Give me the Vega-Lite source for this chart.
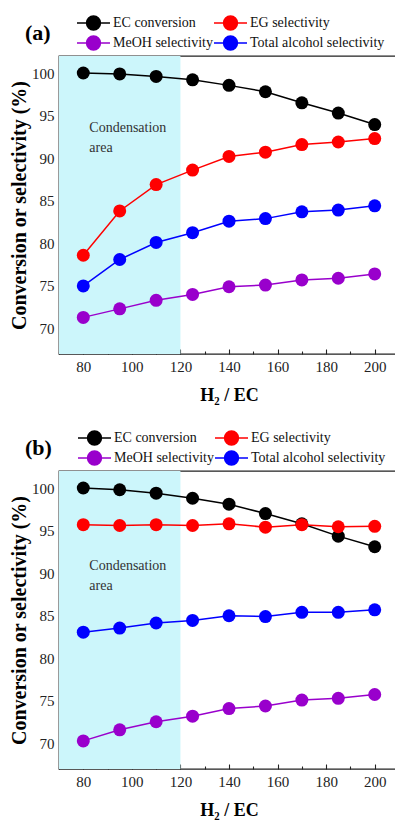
{
  "$schema": "https://vega.github.io/schema/vega-lite/v6.json",
  "padding": {"left": 8, "top": 13, "right": 0, "bottom": 5},
  "spacing": 23,
  "config": {
    "font": "Liberation Serif",
    "view": {"stroke": "#222", "strokeWidth": 1.3},
    "axis": {
      "grid": false,
      "domain": false,
      "tickColor": "#222",
      "tickWidth": 1.1,
      "labelOverlap": false,
      "labelFlush": false,
      "labelFont": "Liberation Serif",
      "labelFontSize": 15,
      "labelColor": "#222",
      "titleFont": "Liberation Serif",
      "titleFontWeight": "bold",
      "titleColor": "#000"
    },
    "legend": {
      "labelFont": "Liberation Serif",
      "labelFontSize": 14,
      "labelColor": "#111",
      "titleFont": "Liberation Serif"
    }
  },
  "resolve": {"legend": {"color": "independent"}},
  "datasets": {
    "pts": [
      {"panel": "a", "series": "EC conversion", "h2ec": 80, "value": 100.0},
      {"panel": "a", "series": "EC conversion", "h2ec": 95, "value": 99.9},
      {"panel": "a", "series": "EC conversion", "h2ec": 110, "value": 99.6},
      {"panel": "a", "series": "EC conversion", "h2ec": 125, "value": 99.2},
      {"panel": "a", "series": "EC conversion", "h2ec": 140, "value": 98.55},
      {"panel": "a", "series": "EC conversion", "h2ec": 155, "value": 97.8},
      {"panel": "a", "series": "EC conversion", "h2ec": 170, "value": 96.5},
      {"panel": "a", "series": "EC conversion", "h2ec": 185, "value": 95.3},
      {"panel": "a", "series": "EC conversion", "h2ec": 200, "value": 93.95},
      {"panel": "a", "series": "EG selectivity", "h2ec": 80, "value": 78.6},
      {"panel": "a", "series": "EG selectivity", "h2ec": 95, "value": 83.8},
      {"panel": "a", "series": "EG selectivity", "h2ec": 110, "value": 86.9},
      {"panel": "a", "series": "EG selectivity", "h2ec": 125, "value": 88.6},
      {"panel": "a", "series": "EG selectivity", "h2ec": 140, "value": 90.2},
      {"panel": "a", "series": "EG selectivity", "h2ec": 155, "value": 90.7},
      {"panel": "a", "series": "EG selectivity", "h2ec": 170, "value": 91.6},
      {"panel": "a", "series": "EG selectivity", "h2ec": 185, "value": 91.9},
      {"panel": "a", "series": "EG selectivity", "h2ec": 200, "value": 92.3},
      {"panel": "a", "series": "MeOH selectivity", "h2ec": 80, "value": 71.3},
      {"panel": "a", "series": "MeOH selectivity", "h2ec": 95, "value": 72.3},
      {"panel": "a", "series": "MeOH selectivity", "h2ec": 110, "value": 73.3},
      {"panel": "a", "series": "MeOH selectivity", "h2ec": 125, "value": 74.0},
      {"panel": "a", "series": "MeOH selectivity", "h2ec": 140, "value": 74.9},
      {"panel": "a", "series": "MeOH selectivity", "h2ec": 155, "value": 75.1},
      {"panel": "a", "series": "MeOH selectivity", "h2ec": 170, "value": 75.7},
      {"panel": "a", "series": "MeOH selectivity", "h2ec": 185, "value": 75.9},
      {"panel": "a", "series": "MeOH selectivity", "h2ec": 200, "value": 76.4},
      {"panel": "a", "series": "Total alcohol selectivity", "h2ec": 80, "value": 75.0},
      {"panel": "a", "series": "Total alcohol selectivity", "h2ec": 95, "value": 78.1},
      {"panel": "a", "series": "Total alcohol selectivity", "h2ec": 110, "value": 80.1},
      {"panel": "a", "series": "Total alcohol selectivity", "h2ec": 125, "value": 81.25},
      {"panel": "a", "series": "Total alcohol selectivity", "h2ec": 140, "value": 82.6},
      {"panel": "a", "series": "Total alcohol selectivity", "h2ec": 155, "value": 82.9},
      {"panel": "a", "series": "Total alcohol selectivity", "h2ec": 170, "value": 83.7},
      {"panel": "a", "series": "Total alcohol selectivity", "h2ec": 185, "value": 83.9},
      {"panel": "a", "series": "Total alcohol selectivity", "h2ec": 200, "value": 84.4},
      {"panel": "b", "series": "EC conversion", "h2ec": 80, "value": 100.0},
      {"panel": "b", "series": "EC conversion", "h2ec": 95, "value": 99.8},
      {"panel": "b", "series": "EC conversion", "h2ec": 110, "value": 99.4},
      {"panel": "b", "series": "EC conversion", "h2ec": 125, "value": 98.8},
      {"panel": "b", "series": "EC conversion", "h2ec": 140, "value": 98.1},
      {"panel": "b", "series": "EC conversion", "h2ec": 155, "value": 97.0},
      {"panel": "b", "series": "EC conversion", "h2ec": 170, "value": 95.8},
      {"panel": "b", "series": "EC conversion", "h2ec": 185, "value": 94.35},
      {"panel": "b", "series": "EC conversion", "h2ec": 200, "value": 93.1},
      {"panel": "b", "series": "EG selectivity", "h2ec": 80, "value": 95.7},
      {"panel": "b", "series": "EG selectivity", "h2ec": 95, "value": 95.6},
      {"panel": "b", "series": "EG selectivity", "h2ec": 110, "value": 95.7},
      {"panel": "b", "series": "EG selectivity", "h2ec": 125, "value": 95.6},
      {"panel": "b", "series": "EG selectivity", "h2ec": 140, "value": 95.8},
      {"panel": "b", "series": "EG selectivity", "h2ec": 155, "value": 95.4},
      {"panel": "b", "series": "EG selectivity", "h2ec": 170, "value": 95.7},
      {"panel": "b", "series": "EG selectivity", "h2ec": 185, "value": 95.45},
      {"panel": "b", "series": "EG selectivity", "h2ec": 200, "value": 95.5},
      {"panel": "b", "series": "MeOH selectivity", "h2ec": 80, "value": 70.3},
      {"panel": "b", "series": "MeOH selectivity", "h2ec": 95, "value": 71.6},
      {"panel": "b", "series": "MeOH selectivity", "h2ec": 110, "value": 72.55},
      {"panel": "b", "series": "MeOH selectivity", "h2ec": 125, "value": 73.2},
      {"panel": "b", "series": "MeOH selectivity", "h2ec": 140, "value": 74.1},
      {"panel": "b", "series": "MeOH selectivity", "h2ec": 155, "value": 74.4},
      {"panel": "b", "series": "MeOH selectivity", "h2ec": 170, "value": 75.1},
      {"panel": "b", "series": "MeOH selectivity", "h2ec": 185, "value": 75.3},
      {"panel": "b", "series": "MeOH selectivity", "h2ec": 200, "value": 75.75},
      {"panel": "b", "series": "Total alcohol selectivity", "h2ec": 80, "value": 83.07},
      {"panel": "b", "series": "Total alcohol selectivity", "h2ec": 95, "value": 83.55},
      {"panel": "b", "series": "Total alcohol selectivity", "h2ec": 110, "value": 84.15},
      {"panel": "b", "series": "Total alcohol selectivity", "h2ec": 125, "value": 84.45},
      {"panel": "b", "series": "Total alcohol selectivity", "h2ec": 140, "value": 85.0},
      {"panel": "b", "series": "Total alcohol selectivity", "h2ec": 155, "value": 84.9},
      {"panel": "b", "series": "Total alcohol selectivity", "h2ec": 170, "value": 85.4},
      {"panel": "b", "series": "Total alcohol selectivity", "h2ec": 185, "value": 85.4},
      {"panel": "b", "series": "Total alcohol selectivity", "h2ec": 200, "value": 85.7}
    ],
    "band": [{"x1": 70, "x2": 120}],
    "notes": [
      {"panel": "a", "x": 82.5, "y": 93.6, "text": "Condensation\narea"},
      {"panel": "b", "x": 82.5, "y": 90.85, "text": "Condensation\narea"}
    ]
  },
  "vconcat": [
    {
      "width": 340,
      "height": 298,
      "resolve": {"axis": {"x": "independent", "y": "independent"}},
      "layer": [
        {
          "data": {"name": "band"},
          "mark": {"type": "rect", "color": "#CCF6FB"},
          "encoding": {
            "x": {"field": "x1", "type": "quantitative", "scale": {"domain": [70, 210], "nice": false, "zero": false},
              "axis": {"orient": "bottom", "values": [70, 90, 110, 130, 150, 170, 190, 210], "labels": false, "tickSize": -3, "title": null}},
            "x2": {"field": "x2"}
          }
        },
        {
          "data": {"name": "notes"},
          "transform": [{"filter": "datum.panel === 'a'"}],
          "mark": {"type": "text", "align": "left", "baseline": "middle", "lineBreak": "\n", "lineHeight": 20, "fontSize": 14, "color": "#333"},
          "encoding": {
            "x": {"field": "x", "type": "quantitative", "axis": null},
            "y": {"field": "y", "type": "quantitative", "scale": {"domain": [67, 102], "nice": false, "zero": false},
              "axis": {"orient": "left", "values": [67.5, 72.5, 77.5, 82.5, 87.5, 92.5, 97.5], "labels": false, "tickSize": -3, "title": null}},
            "text": {"field": "text"}
          }
        },
        {
          "data": {"name": "pts"},
          "transform": [{"filter": "datum.panel === 'a'"}],
          "mark": {"type": "line", "strokeWidth": 1.5},
          "encoding": {
            "x": {"field": "h2ec", "type": "quantitative",
              "axis": {"orient": "bottom", "values": [80, 100, 120, 140, 160, 180, 200], "tickSize": -5, "labelPadding": 10, "labelBaseline": "top", "labelAlign": "center", "title": "H₂ / EC", "titleFontSize": 18, "titlePadding": 12}},
            "y": {"field": "value", "type": "quantitative",
              "axis": {"orient": "left", "values": [70, 75, 80, 85, 90, 95, 100], "tickSize": -5, "labelPadding": 10, "labelAlign": "right", "labelBaseline": "middle", "title": "Conversion or selectivity (%)", "titleFontSize": 20, "titlePadding": 2}},
            "color": {"field": "series", "type": "nominal",
              "scale": {"domain": ["EC conversion", "EG selectivity", "MeOH selectivity", "Total alcohol selectivity"], "range": ["#000000", "#FF0000", "#9900CC", "#0000FF"]},
              "legend": {
                "orient": "none", "legendX": -34, "legendY": -42, "direction": "horizontal", "columns": 2,
                "title": "(a)", "titleOrient": "left", "titleFontSize": 22, "titleFontWeight": "bold", "titleColor": "#000", "titlePadding": 25,
                "titleAnchor": "middle", "titleBaseline": "middle",
                "padding": 0, "clipHeight": 18, "rowPadding": 2, "columnPadding": 0, "labelOffset": 2,
                "symbolType": "M-1,0L-0.42,0M0.42,0L1,0M-0.42,0A0.42,0.42,0,1,1,0.42,0A0.42,0.42,0,1,1,-0.42,0Z",
                "symbolSize": 1089, "symbolStrokeWidth": 1.5,
                "encode": {"symbols": {"update": {"fill": {"scale": "color", "field": "value"}, "stroke": {"scale": "color", "field": "value"}, "strokeWidth": {"value": 1.5}, "opacity": {"value": 1}}}}
              }
            }
          }
        },
        {
          "data": {"name": "pts"},
          "transform": [{"filter": "datum.panel === 'a'"}],
          "mark": {"type": "point", "filled": true, "size": 169, "opacity": 1, "shape": "circle"},
          "encoding": {
            "x": {"field": "h2ec", "type": "quantitative", "axis": null},
            "y": {"field": "value", "type": "quantitative", "axis": null},
            "color": {"field": "series", "type": "nominal"}
          }
        }
      ]
    },
    {
      "width": 340,
      "height": 298,
      "resolve": {"axis": {"x": "independent", "y": "independent"}},
      "layer": [
        {
          "data": {"name": "band"},
          "mark": {"type": "rect", "color": "#CCF6FB"},
          "encoding": {
            "x": {"field": "x1", "type": "quantitative", "scale": {"domain": [70, 210], "nice": false, "zero": false},
              "axis": {"orient": "bottom", "values": [70, 90, 110, 130, 150, 170, 190, 210], "labels": false, "tickSize": -3, "title": null}},
            "x2": {"field": "x2"}
          }
        },
        {
          "data": {"name": "notes"},
          "transform": [{"filter": "datum.panel === 'b'"}],
          "mark": {"type": "text", "align": "left", "baseline": "middle", "lineBreak": "\n", "lineHeight": 20, "fontSize": 14, "color": "#333"},
          "encoding": {
            "x": {"field": "x", "type": "quantitative", "axis": null},
            "y": {"field": "y", "type": "quantitative", "scale": {"domain": [67, 102], "nice": false, "zero": false},
              "axis": {"orient": "left", "values": [67.5, 72.5, 77.5, 82.5, 87.5, 92.5, 97.5], "labels": false, "tickSize": -3, "title": null}},
            "text": {"field": "text"}
          }
        },
        {
          "data": {"name": "pts"},
          "transform": [{"filter": "datum.panel === 'b'"}],
          "mark": {"type": "line", "strokeWidth": 1.5},
          "encoding": {
            "x": {"field": "h2ec", "type": "quantitative",
              "axis": {"orient": "bottom", "values": [80, 100, 120, 140, 160, 180, 200], "tickSize": -5, "labelPadding": 10, "labelBaseline": "top", "labelAlign": "center", "title": "H₂ / EC", "titleFontSize": 18, "titlePadding": 12}},
            "y": {"field": "value", "type": "quantitative",
              "axis": {"orient": "left", "values": [70, 75, 80, 85, 90, 95, 100], "tickSize": -5, "labelPadding": 10, "labelAlign": "right", "labelBaseline": "middle", "title": "Conversion or selectivity (%)", "titleFontSize": 20, "titlePadding": 2}},
            "color": {"field": "series", "type": "nominal",
              "scale": {"domain": ["EC conversion", "EG selectivity", "MeOH selectivity", "Total alcohol selectivity"], "range": ["#000000", "#FF0000", "#9900CC", "#0000FF"]},
              "legend": {
                "orient": "none", "legendX": -34, "legendY": -42, "direction": "horizontal", "columns": 2,
                "title": "(b)", "titleOrient": "left", "titleFontSize": 22, "titleFontWeight": "bold", "titleColor": "#000", "titlePadding": 25,
                "titleAnchor": "middle", "titleBaseline": "middle",
                "padding": 0, "clipHeight": 18, "rowPadding": 2, "columnPadding": 0, "labelOffset": 2,
                "symbolType": "M-1,0L-0.42,0M0.42,0L1,0M-0.42,0A0.42,0.42,0,1,1,0.42,0A0.42,0.42,0,1,1,-0.42,0Z",
                "symbolSize": 1089, "symbolStrokeWidth": 1.5,
                "encode": {"symbols": {"update": {"fill": {"scale": "color", "field": "value"}, "stroke": {"scale": "color", "field": "value"}, "strokeWidth": {"value": 1.5}, "opacity": {"value": 1}}}}
              }
            }
          }
        },
        {
          "data": {"name": "pts"},
          "transform": [{"filter": "datum.panel === 'b'"}],
          "mark": {"type": "point", "filled": true, "size": 169, "opacity": 1, "shape": "circle"},
          "encoding": {
            "x": {"field": "h2ec", "type": "quantitative", "axis": null},
            "y": {"field": "value", "type": "quantitative", "axis": null},
            "color": {"field": "series", "type": "nominal"}
          }
        }
      ]
    }
  ]
}
